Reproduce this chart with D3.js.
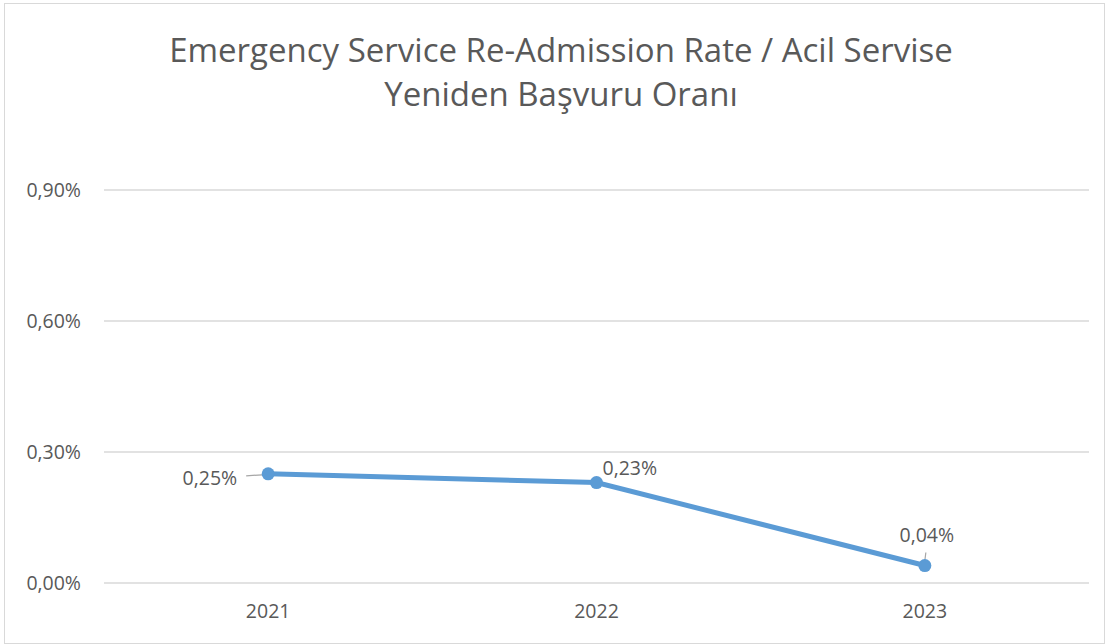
<!DOCTYPE html>
<html>
<head>
<meta charset="utf-8">
<script src="https://cdn.jsdelivr.net/npm/d3@7"></script>
<style>
  body { margin: 0; background: #fff; }
  text { font-family: "Open Sans", sans-serif; fill: #595959; }
</style>
</head>
<body>
<div id="chart"></div>
<script>
const years = ["2021", "2022", "2023"];
const rates = [0.25, 0.23, 0.04];
const yTicks = [0, 0.30, 0.60, 0.90];
const titleLines = ["Emergency Service Re-Admission Rate / Acil Servise", "Yeniden Başvuru Oranı"];

const W = 1109, H = 644;
const margin = { top: 190, right: 20, bottom: 61, left: 104 };
const width = 1089 - margin.left;
const height = H - margin.top - margin.bottom;

const svg = d3.select("#chart").append("svg")
  .attr("width", W)
  .attr("height", H);

// chart border
svg.append("rect")
  .attr("x", 4.5).attr("y", 3.5)
  .attr("width", W - 9).attr("height", H - 4)
  .attr("fill", "#fff")
  .attr("stroke", "#d9d9d9");

const g = svg.append("g")
  .attr("transform", `translate(${margin.left},${margin.top})`);

const x = d3.scaleBand().domain(years).range([0, width]);
const y = d3.scaleLinear().domain([0, 0.90]).range([height, 0]);

const fmt = v => v.toFixed(2).replace(".", ",") + "%";

// gridlines
g.append("g")
  .selectAll("line")
  .data(yTicks)
  .enter().append("line")
  .attr("x1", 0).attr("x2", width)
  .attr("y1", d => y(d)).attr("y2", d => y(d))
  .attr("stroke", "#d9d9d9")
  .attr("stroke-width", 1.5);

// y axis labels
const yAxis = d3.axisLeft(y).tickValues(yTicks).tickFormat(fmt).tickSize(0).tickPadding(23);
g.append("g").call(yAxis)
  .call(a => a.select(".domain").remove())
  .selectAll("text")
  .style("font-size", "19.5px")
  .attr("fill", "#595959");

// x axis labels
const xAxis = d3.axisBottom(x).tickSize(0).tickPadding(21);
g.append("g")
  .attr("transform", `translate(0,${height})`)
  .call(xAxis)
  .call(a => a.select(".domain").remove())
  .selectAll("text")
  .style("font-size", "19.5px")
  .attr("fill", "#595959");

const pts = years.map((yr, i) => ({ yr, v: rates[i] }));
const cx = d => x(d.yr) + x.bandwidth() / 2;

// line
g.append("path")
  .datum(pts)
  .attr("fill", "none")
  .attr("stroke", "#5b9bd5")
  .attr("stroke-width", 5)
  .attr("stroke-linecap", "round")
  .attr("d", d3.line().x(cx).y(d => y(d.v)));

// leader lines
const leaders = [
  { i: 0, dx1: -22, dy1: 2, dx2: -6, dy2: 1 },
  { i: 2, dx1: 1, dy1: -13, dx2: 0, dy2: -5 }
];
g.selectAll(".leader")
  .data(leaders)
  .enter().append("line")
  .attr("class", "leader")
  .attr("x1", d => cx(pts[d.i]) + d.dx1)
  .attr("y1", d => y(pts[d.i].v) + d.dy1)
  .attr("x2", d => cx(pts[d.i]) + d.dx2)
  .attr("y2", d => y(pts[d.i].v) + d.dy2)
  .attr("stroke", "#a6a6a6")
  .attr("stroke-width", 1.2);

// markers
g.selectAll(".dot")
  .data(pts)
  .enter().append("circle")
  .attr("cx", cx)
  .attr("cy", d => y(d.v))
  .attr("r", 6.5)
  .attr("fill", "#5b9bd5");

// data labels
const labelPos = [
  { dx: -31, dy: 11, anchor: "end" },
  { dx: 6, dy: -8, anchor: "start" },
  { dx: 2, dy: -24, anchor: "middle" }
];
g.selectAll(".lbl")
  .data(pts)
  .enter().append("text")
  .attr("x", (d, i) => cx(d) + labelPos[i].dx)
  .attr("y", (d, i) => y(d.v) + labelPos[i].dy)
  .attr("text-anchor", (d, i) => labelPos[i].anchor)
  .style("font-size", "19.5px")
  .text(d => fmt(d.v));

// title
svg.append("g")
  .selectAll("text")
  .data(titleLines)
  .enter().append("text")
  .attr("x", 561)
  .attr("y", (d, i) => 62 + i * 44)
  .attr("text-anchor", "middle")
  .style("font-size", "33px")
  .text(d => d);
</script>
</body>
</html>
